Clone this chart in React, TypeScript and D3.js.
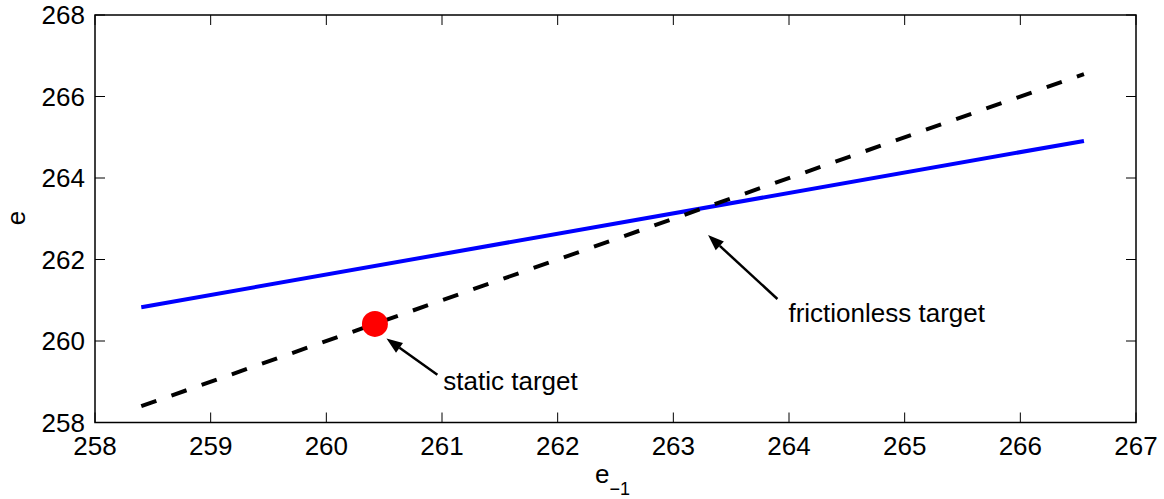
import React from 'react';
import { scaleLinear, line } from 'd3';

const xTicks = [258, 259, 260, 261, 262, 263, 264, 265, 266, 267];
const yTicks = [258, 260, 262, 264, 266, 268];

// 45 degree line e = e_{-1} (frictionless target)
const frictionlessX = [258.4, 266.55];
const frictionlessY = [258.4, 266.55];

// actual policy line
const policyX = [258.4, 266.55];
const policyY = [260.83, 264.91];

// static target point
const staticPoint = [260.42, 260.42];

// annotations: tail/tip in data units, label offset in px
const annotations = [
  { label: 'static target', tail: [260.96, 259.17], tip: [260.52, 260.06], dx: 6, dy: 15 },
  { label: 'frictionless target', tail: [263.9, 261.03], tip: [263.3, 262.6], dx: 11, dy: 23 },
];

const W = 1164;
const H = 499;
const M = { left: 95, right: 1136, top: 15, bottom: 422.5 };
const FONT = 'Liberation Sans, Arial, Helvetica, sans-serif';

export default function App() {
  const x = scaleLinear().domain([258, 267]).range([M.left, M.right]);
  const y = scaleLinear().domain([258, 268]).range([M.bottom, M.top]);

  const path = line<number[]>()
    .x(d => x(d[0]))
    .y(d => y(d[1]));

  const zip = (a: number[], b: number[]) => a.map((v, i) => [v, b[i]]);

  const tickLen = 10;

  return (
    <svg
      width={W}
      height={H}
      viewBox={`0 0 ${W} ${H}`}
      style={{ position: 'absolute', left: 0, top: 0, background: '#fff' }}
      fontFamily={FONT}
    >
      {/* data */}
      <path
        d={path(zip(policyX, policyY)) || ''}
        fill="none"
        stroke="#0000ff"
        strokeWidth={4}
      />
      <path
        d={path(zip(frictionlessX, frictionlessY)) || ''}
        fill="none"
        stroke="#000"
        strokeWidth={4}
        strokeDasharray="16,16"
      />
      <circle cx={x(staticPoint[0])} cy={y(staticPoint[1])} r={13} fill="#ff0000" />

      {/* annotations */}
      {annotations.map(a => {
        const x1 = x(a.tail[0]);
        const y1 = y(a.tail[1]);
        const x2 = x(a.tip[0]);
        const y2 = y(a.tip[1]);
        const ang = Math.atan2(y2 - y1, x2 - x1);
        const hl = 16;
        const hw = 6;
        const bx = x2 - hl * Math.cos(ang);
        const by = y2 - hl * Math.sin(ang);
        const px = -Math.sin(ang) * hw;
        const py = Math.cos(ang) * hw;
        return (
          <g key={a.label}>
            <line x1={x1} y1={y1} x2={bx} y2={by} stroke="#000" strokeWidth={2.5} />
            <path d={`M${x2},${y2}L${bx + px},${by + py}L${bx - px},${by - py}Z`} fill="#000" />
            <text x={x1 + a.dx} y={y1 + a.dy} fontSize={26} fill="#000">
              {a.label}
            </text>
          </g>
        );
      })}

      {/* axes box */}
      <rect
        x={M.left}
        y={M.top}
        width={M.right - M.left}
        height={M.bottom - M.top}
        fill="none"
        stroke="#000"
        strokeWidth={1.5}
      />
      {xTicks.map(t => (
        <g key={'x' + t}>
          <line x1={x(t)} x2={x(t)} y1={M.bottom} y2={M.bottom - tickLen} stroke="#000" strokeWidth={1} />
          <line x1={x(t)} x2={x(t)} y1={M.top} y2={M.top + tickLen} stroke="#000" strokeWidth={1} />
          <text x={x(t)} y={455} textAnchor="middle" fontSize={26} fill="#000">
            {t}
          </text>
        </g>
      ))}
      {yTicks.map(t => (
        <g key={'y' + t}>
          <line x1={M.left} x2={M.left + tickLen} y1={y(t)} y2={y(t)} stroke="#000" strokeWidth={1} />
          <line x1={M.right} x2={M.right - tickLen} y1={y(t)} y2={y(t)} stroke="#000" strokeWidth={1} />
          <text x={85} y={y(t)} dy="0.36em" textAnchor="end" fontSize={26} fill="#000">
            {t}
          </text>
        </g>
      ))}

      {/* axis labels */}
      <text x={595} y={483} fontSize={26} fill="#000">
        e
        <tspan dy={12} fontSize={18}>
          {'\u22121'}
        </tspan>
      </text>
      <text transform="translate(25,218) rotate(-90)" textAnchor="middle" fontSize={26} fill="#000">
        e
      </text>
    </svg>
  );
}
